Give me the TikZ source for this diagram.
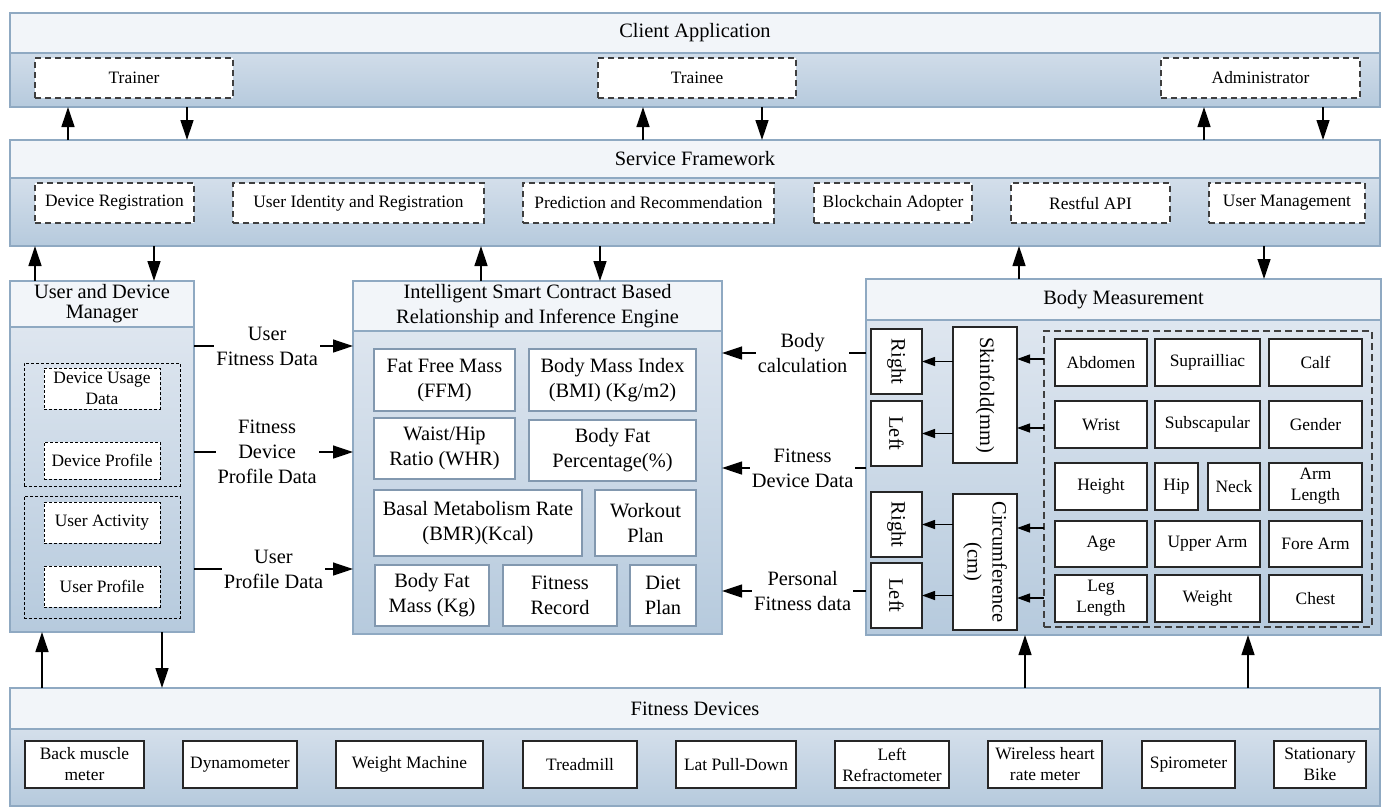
\documentclass[tikz,border=0pt]{standalone}
\usepackage{fontspec}
\setmainfont{Liberation Serif}
\usepackage{graphicx}
\usetikzlibrary{arrows.meta}

\definecolor{panelline}{HTML}{8FA9C2}
\definecolor{bandfill}{HTML}{F2F5F9}
\definecolor{shadetop}{HTML}{E4EAF2}
\definecolor{shadebot}{HTML}{B6CADD}
\definecolor{boxline}{HTML}{8298AF}
\definecolor{dashline}{HTML}{3F3F3F}

\begin{document}
\begin{tikzpicture}[x=1pt,y=-1pt,
  every node/.style={inner sep=0pt, outer sep=0pt},
  big/.style={font=\fontsize{20.4}{25}\selectfont},
  small/.style={font=\fontsize{17.4}{21}\selectfont},
  panel/.style={draw=panelline, line width=1.8pt, top color=shadetop, bottom color=shadebot},
  band/.style={draw=panelline, line width=1.8pt, fill=bandfill, big, align=center},
  role/.style={draw=dashline, line width=1.2pt, dash pattern=on 6pt off 4pt, fill=white, small},
  calcbox/.style={draw=boxline, line width=1.8pt, fill=white, big, align=center},
  item/.style={draw=black!85, line width=1.2pt, fill=white, small, align=center},
  sidebox/.style={draw=black!85, line width=1.2pt, fill=white, big, align=center},
  rec/.style={draw=black, line width=1pt, dash pattern=on 3pt off 2pt, fill=white, small, align=center},
  grp/.style={draw=black, line width=1pt, dash pattern=on 3pt off 2pt},
  biggrp/.style={draw=dashline, line width=1.2pt, dash pattern=on 7pt off 4pt},
  arr/.style={line width=1.3pt, -{Triangle[length=20pt,width=13pt]}},
  sarr/.style={line width=1.3pt, -{Triangle[length=13pt,width=9pt]}},
  flow/.style={big, align=center, fill=white, inner sep=2pt},
]
\useasboundingbox (0,0) rectangle (1390,807);

% ---------- Client Application ----------
\node[panel, minimum width=1370, minimum height=94] (ca) at (695,60) {};
\node[band, minimum width=1370, minimum height=40] (cat) at (695,33) {Client Application};
\node[role, minimum width=198, minimum height=40] (trainer) at (134,78) {Trainer};
\node[role, minimum width=198, minimum height=40] (trainee) at (697,78) {Trainee};
\node[role, minimum width=199, minimum height=40] (admin) at (1260.5,78) {Administrator};

% ---------- Service Framework ----------
\node[panel, minimum width=1370, minimum height=106] (sf) at (695,193) {};
\node[band, minimum width=1370, minimum height=38] (sft) at (695,159) {Service Framework};
\node[role, minimum width=159, minimum height=40] (devreg) at (114.5,203) {Device Registration};
\node[role, minimum width=251, minimum height=40] (userid) at (358.5,203) {User Identity and Registration};
\node[role, minimum width=251, minimum height=40] (pred) at (648.5,203) {Prediction and Recommendation};
\node[role, minimum width=158, minimum height=40] (chain) at (893,203) {Blockchain Adopter};
\node[role, minimum width=159, minimum height=40] (rest) at (1090.5,203) {Restful API};
\node[role, minimum width=156, minimum height=40] (usermgmt) at (1287,203) {User Management};

% ---------- User and Device Manager ----------
\node[panel, minimum width=184, minimum height=351] (mgr) at (102,456.5) {};
\node[band, minimum width=184, minimum height=46, font=\fontsize{20.4}{20}\selectfont] (mgrt) at (102,304) {User and Device\\Manager};
\node[grp, minimum width=156, minimum height=123] (devgrp) at (102,424.5) {};
\node[grp, minimum width=156, minimum height=122] (usrgrp) at (102,557) {};
\node[rec, minimum width=116, minimum height=41] (usage) at (102,388.5) {Device Usage\\Data};
\node[rec, minimum width=116, minimum height=37] (devprof) at (102,460.5) {Device Profile};
\node[rec, minimum width=116, minimum height=41] (activity) at (102,522.5) {User Activity};
\node[rec, minimum width=116, minimum height=41] (userprof) at (102,586.5) {User Profile};

% ---------- Inference Engine ----------
\node[panel, minimum width=369, minimum height=353] (eng) at (537.5,457.5) {};
\node[band, minimum width=369, minimum height=50] (engt) at (537.5,306) {Intelligent Smart Contract Based\\Relationship and Inference Engine};
\node[calcbox, minimum width=141, minimum height=62] (ffm) at (444.5,380) {Fat Free Mass\\(FFM)};
\node[calcbox, minimum width=167, minimum height=62] (bmi) at (612.5,380) {Body Mass Index\\(BMI) (Kg/m2)};
\node[calcbox, minimum width=141, minimum height=61] (whr) at (444.5,448.5) {Waist/Hip\\Ratio (WHR)};
\node[calcbox, minimum width=167, minimum height=61] (bfp) at (612.5,450.5) {Body Fat\\Percentage(\%)};
\node[calcbox, minimum width=208, minimum height=66] (bmr) at (478,523) {Basal Metabolism Rate\\(BMR)(Kcal)};
\node[calcbox, minimum width=101, minimum height=66] (workout) at (645.5,523) {Workout\\Plan};
\node[calcbox, minimum width=114, minimum height=61] (bfm) at (432,595.5) {Body Fat\\Mass (Kg)};
\node[calcbox, minimum width=114, minimum height=61] (record) at (560,595.5) {Fitness\\Record};
\node[calcbox, minimum width=66, minimum height=61] (diet) at (663,595.5) {Diet\\Plan};

% ---------- Body Measurement ----------
\node[panel, minimum width=515, minimum height=356] (body) at (1123.5,457) {};
\node[band, minimum width=515, minimum height=41] (bodyt) at (1123.5,299.5) {Body Measurement};
\node[sidebox, minimum width=51, minimum height=65] (r1) at (896.5,361.5) {\rotatebox{-90}{Right}};
\node[sidebox, minimum width=51, minimum height=65] (l1) at (896.5,433.5) {\rotatebox{-90}{Left}};
\node[sidebox, minimum width=51, minimum height=65] (r2) at (896.5,524.5) {\rotatebox{-90}{Right}};
\node[sidebox, minimum width=51, minimum height=65] (l2) at (896.5,595.5) {\rotatebox{-90}{Left}};
\node[sidebox, minimum width=64, minimum height=136] (skin) at (985,395) {\rotatebox{-90}{Skinfold(mm)}};
\node[sidebox, minimum width=64, minimum height=136] (circ) at (985,562) {\rotatebox{-90}{\begin{tabular}{@{}c@{}}Circumference\\(cm)\end{tabular}}};
\node[biggrp, minimum width=328, minimum height=296] (attrs) at (1208,479) {};
% attribute grid
\node[item, minimum width=92, minimum height=47] (g11) at (1101,362.5) {Abdomen};
\node[item, minimum width=105, minimum height=47] (g12) at (1207.5,362.5) {Suprailliac};
\node[item, minimum width=93, minimum height=47] (g13) at (1315.5,362.5) {Calf};
\node[item, minimum width=92, minimum height=47] (g21) at (1101,424.5) {Wrist};
\node[item, minimum width=105, minimum height=47] (g22) at (1207.5,424.5) {Subscapular};
\node[item, minimum width=93, minimum height=47] (g23) at (1315.5,424.5) {Gender};
\node[item, minimum width=92, minimum height=47] (g31) at (1101,486.5) {Height};
\node[item, minimum width=43, minimum height=47] (g32) at (1176.5,486.5) {Hip};
\node[item, minimum width=52, minimum height=47] (g33) at (1234,486.5) {Neck};
\node[item, minimum width=93, minimum height=47] (g34) at (1315.5,486.5) {Arm\\Length};
\node[item, minimum width=92, minimum height=46] (g41) at (1101,544) {Age};
\node[item, minimum width=105, minimum height=46] (g42) at (1207.5,544) {Upper Arm};
\node[item, minimum width=93, minimum height=46] (g43) at (1315.5,544) {Fore Arm};
\node[item, minimum width=92, minimum height=47] (g51) at (1101,598.5) {Leg\\Length};
\node[item, minimum width=105, minimum height=47] (g52) at (1207.5,598.5) {Weight};
\node[item, minimum width=93, minimum height=47] (g53) at (1315.5,598.5) {Chest};

% ---------- Fitness Devices ----------
\node[panel, minimum width=1370, minimum height=118] (fd) at (695,747) {};
\node[band, minimum width=1370, minimum height=41] (fdt) at (695,708.5) {Fitness Devices};
\node[item, minimum width=119, minimum height=47] (d1) at (84.5,764.5) {Back muscle\\meter};
\node[item, minimum width=114, minimum height=47] (d2) at (240,764.5) {Dynamometer};
\node[item, minimum width=147, minimum height=47] (d3) at (409.5,764.5) {Weight Machine};
\node[item, minimum width=114, minimum height=47] (d4) at (580,764.5) {Treadmill};
\node[item, minimum width=120, minimum height=47] (d5) at (736,764.5) {Lat Pull-Down};
\node[item, minimum width=114, minimum height=47] (d6) at (892,764.5) {Left\\Refractometer};
\node[item, minimum width=114, minimum height=47] (d7) at (1045,764.5) {Wireless heart\\rate meter};
\node[item, minimum width=93, minimum height=47] (d8) at (1188.5,764.5) {Spirometer};
\node[item, minimum width=92, minimum height=47] (d9) at (1320,764.5) {Stationary\\Bike};

% ---------- connector positions ----------
\coordinate (xa) at (68,0);   \coordinate (xb) at (187,0);
\coordinate (xc) at (643,0);  \coordinate (xd) at (762,0);
\coordinate (xe) at (1204,0); \coordinate (xf) at (1323,0);
\coordinate (xg) at (35,0);   \coordinate (xh) at (154,0);
\coordinate (xi) at (481,0);  \coordinate (xj) at (600,0);
\coordinate (xk) at (1019,0); \coordinate (xl) at (1264,0);
\coordinate (xm) at (42,0);   \coordinate (xn) at (162,0);
\coordinate (xo) at (1025,0); \coordinate (xp) at (1248,0);
\coordinate (ya) at (0,346);  \coordinate (yb) at (0,452);  \coordinate (yc) at (0,569);
\coordinate (yd) at (0,353);  \coordinate (ye) at (0,468);  \coordinate (yf) at (0,591);
\coordinate (yg) at (0,359);  \coordinate (yh) at (0,428);
\coordinate (yi) at (0,528);  \coordinate (yj) at (0,598);

% client <-> service
\draw[arr] (sf.north -| xa) -- (ca.south -| xa);
\draw[arr] (ca.south -| xb) -- (sf.north -| xb);
\draw[arr] (sf.north -| xc) -- (ca.south -| xc);
\draw[arr] (ca.south -| xd) -- (sf.north -| xd);
\draw[arr] (sf.north -| xe) -- (ca.south -| xe);
\draw[arr] (ca.south -| xf) -- (sf.north -| xf);

% service <-> middle layer
\draw[arr] (mgr.north -| xg) -- (sf.south -| xg);
\draw[arr] (sf.south -| xh) -- (mgr.north -| xh);
\draw[arr] (eng.north -| xi) -- (sf.south -| xi);
\draw[arr] (sf.south -| xj) -- (eng.north -| xj);
\draw[arr] (body.north -| xk) -- (sf.south -| xk);
\draw[arr] (sf.south -| xl) -- (body.north -| xl);

% devices <-> middle layer
\draw[arr] (fd.north -| xm) -- (mgr.south -| xm);
\draw[arr] (mgr.south -| xn) -- (fd.north -| xn);
\draw[arr] (fd.north -| xo) -- (body.south -| xo);
\draw[arr] (fd.north -| xp) -- (body.south -| xp);

% manager -> engine
\draw[arr] (mgr.east |- ya) -- node[flow, pos=0.46] {User\\Fitness Data} (eng.west |- ya);
\draw[arr] (mgr.east |- yb) -- node[flow, pos=0.46] {Fitness\\Device\\Profile Data} (eng.west |- yb);
\draw[arr] (mgr.east |- yc) -- node[flow, pos=0.5] {User\\Profile Data} (eng.west |- yc);

% body measurement -> engine
\draw[arr] (body.west |- yd) -- node[flow, pos=0.44] {Body\\calculation} (eng.east |- yd);
\draw[arr] (body.west |- ye) -- node[flow, pos=0.44] {Fitness\\Device Data} (eng.east |- ye);
\draw[arr] (body.west |- yf) -- node[flow, pos=0.44] {Personal\\Fitness data} (eng.east |- yf);

% attributes -> skinfold / circumference
\draw[sarr] (attrs.west |- yg) -- (skin.east |- yg);
\draw[sarr] (attrs.west |- yh) -- (skin.east |- yh);
\draw[sarr] (attrs.west |- yi) -- (circ.east |- yi);
\draw[sarr] (attrs.west |- yj) -- (circ.east |- yj);

% skinfold / circumference -> sides
\draw[sarr] (skin.west |- r1) -- (r1.east);
\draw[sarr] (skin.west |- l1) -- (l1.east);
\draw[sarr] (circ.west |- r2) -- (r2.east);
\draw[sarr] (circ.west |- l2) -- (l2.east);
\end{tikzpicture}
\end{document}
